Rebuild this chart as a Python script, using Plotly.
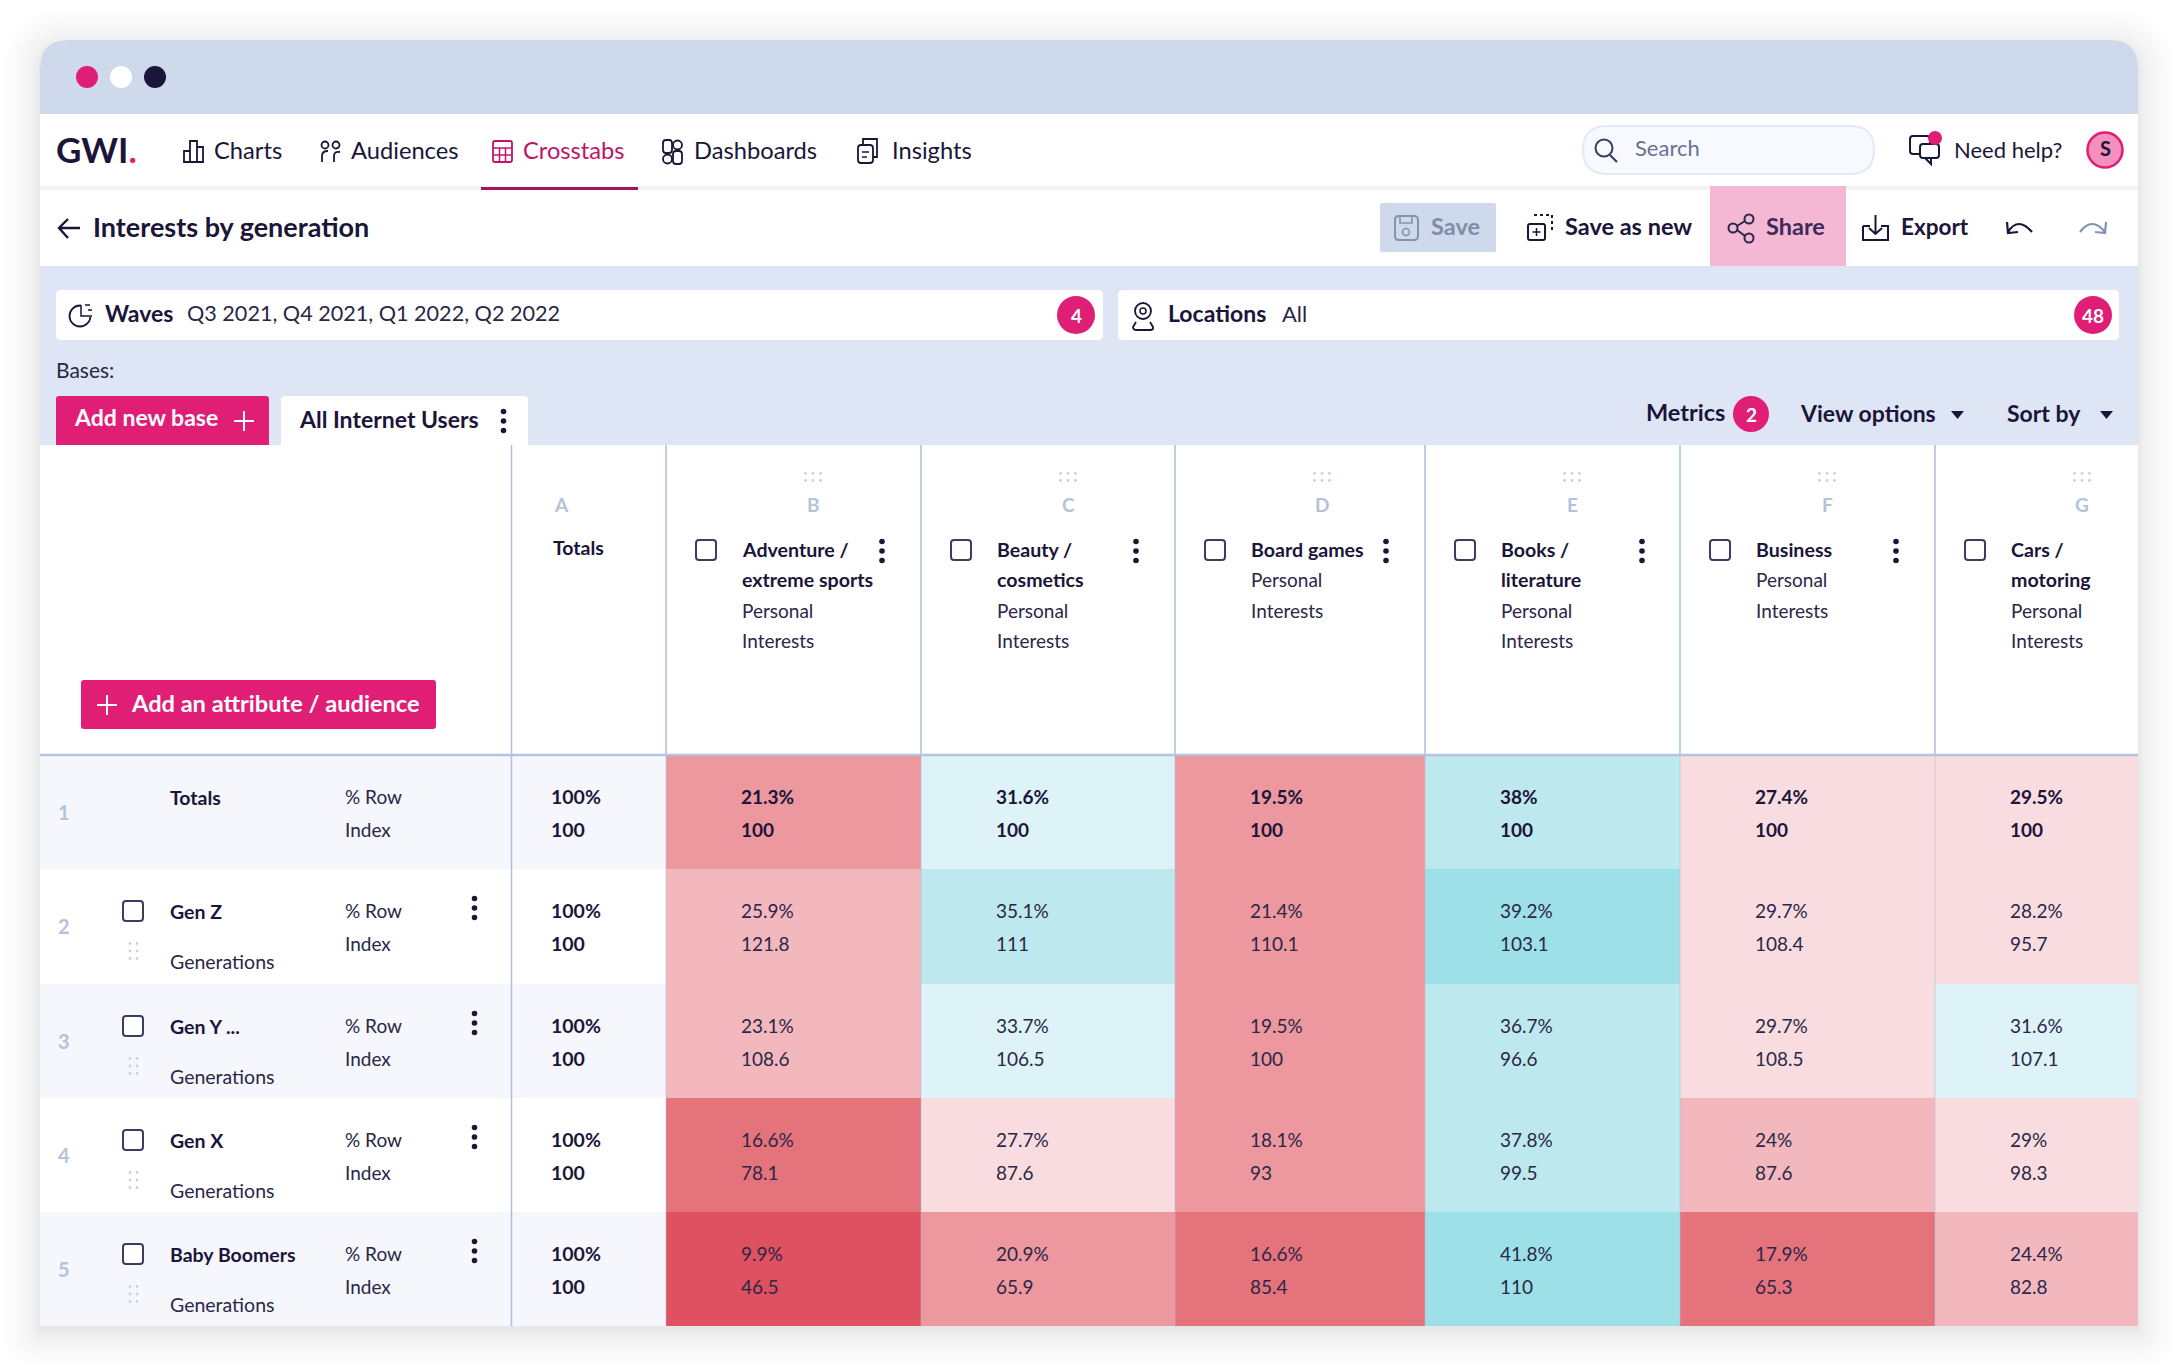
import plotly.graph_objects as go

# ---------- data ----------
row_labels = ["Totals", "Gen Z", "Gen Y ...", "Gen X", "Baby Boomers"]
col_letters = ["B", "C", "D", "E", "F", "G"]
col_titles = [["Adventure /", "extreme sports"], ["Beauty /", "cosmetics"], ["Board games"],
              ["Books /", "literature"], ["Business"], ["Cars /", "motoring"]]
pct_totals = [21.3, 31.6, 19.5, 38, 27.4, 29.5]
pct_gen_z = [25.9, 35.1, 21.4, 39.2, 29.7, 28.2]
pct_gen_y = [23.1, 33.7, 19.5, 36.7, 29.7, 31.6]
pct_gen_x = [16.6, 27.7, 18.1, 37.8, 24, 29]
pct_boomers = [9.9, 20.9, 16.6, 41.8, 17.9, 24.4]
idx_totals = [100, 100, 100, 100, 100, 100]
idx_gen_z = [121.8, 111, 110.1, 103.1, 108.4, 95.7]
idx_gen_y = [108.6, 106.5, 100, 96.6, 108.5, 107.1]
idx_gen_x = [78.1, 87.6, 93, 99.5, 87.6, 98.3]
idx_boomers = [46.5, 65.9, 85.4, 110, 65.3, 82.8]
pct_rows = [pct_totals, pct_gen_z, pct_gen_y, pct_gen_x, pct_boomers]
idx_rows = [idx_totals, idx_gen_z, idx_gen_y, idx_gen_x, idx_boomers]

# ---------- page geometry and style ----------
W, H = 2178, 1366
X_EDGES = [666, 921, 1175, 1425, 1680, 1935, 2138]
Y_EDGES = [755, 869, 984, 1098, 1212, 1326]
WIN_L, WIN_R, WIN_T, WIN_B = 40, 2138, 40, 1326
KEBAB_DX = [216, 215, 211, 217, 216, None]
FONT = "Lato"
NAVY = "#1B1539"
INK = "#2A2747"
PINK = "#E01E75"
FAINT = "#B4C3DC"
RULE = "#AEBFD9"
BIN_COLORS = ["#DF5060", "#E5737C", "#EC989E", "#F2B8BD", "#F9DCDF", "#DEF3F7", "#BDE9EE", "#9DE0E8"]
BIN_EDGES = [14, 18, 22, 26, 30, 34, 38.5]
ZMIN, ZMAX = 9, 43
TEXT_DY = -2

shapes, notes = [], []


def rr(x0, y0, x1, y1, r=0, rb=None):
    rb = r if rb is None else rb
    return (f"M{x0+r},{y0} L{x1-r},{y0} Q{x1},{y0} {x1},{y0+r} L{x1},{y1-rb} Q{x1},{y1} {x1-rb},{y1} "
            f"L{x0+rb},{y1} Q{x0},{y1} {x0},{y1-rb} L{x0},{y0+r} Q{x0},{y0} {x0+r},{y0} Z")


def box(x0, y0, x1, y1, fill=None, r=0, rb=None, line=None, lw=0, layer="above", op=1):
    shapes.append(dict(type="path", path=rr(x0, y0, x1, y1, r, rb), fillcolor=fill or "rgba(0,0,0,0)",
                       line=dict(color=line or "rgba(0,0,0,0)", width=lw), layer=layer, opacity=op))


def poly(d, color=NAVY, lw=2):
    shapes.append(dict(type="path", path=d, line=dict(color=color, width=lw), layer="above"))


def tri(d, color=NAVY):
    shapes.append(dict(type="path", path=d, fillcolor=color, line=dict(width=0), layer="above"))


def circ(cx, cy, r, fill=None, line=None, lw=0):
    shapes.append(dict(type="circle", x0=cx-r, x1=cx+r, y0=cy-r, y1=cy+r, fillcolor=fill or "rgba(0,0,0,0)",
                       line=dict(color=line or "rgba(0,0,0,0)", width=lw), layer="above"))


def hv(x0, y0, x1, y1, color=RULE, lw=1.5, layer="above"):
    shapes.append(dict(type="line", x0=x0, y0=y0, x1=x1, y1=y1, line=dict(color=color, width=lw), layer=layer))


def txt(x, y, s, size=20, color=INK, bold=False, anchor="left"):
    notes.append(dict(x=x, y=y + TEXT_DY, xref="x", yref="y", text=f"<b>{s}</b>" if bold else s, showarrow=False,
                      xanchor=anchor, yanchor="middle", borderpad=0, borderwidth=0,
                      font=dict(family=FONT, size=size, color=color)))


def kebab(x, y, color=NAVY):
    for dy in (-9.5, 0, 9.5):
        circ(x, y + dy, 2.8, fill=color)


def grip(cx, cy, horizontal=False):
    for a in (-1, 1):
        for b in (-7.5, 0, 7.5):
            if horizontal:
                circ(cx + b, cy + a * 3.5, 1.4, fill="#C6D2E6")
            else:
                circ(cx + a * 3.5, cy + b, 1.4, fill="#C6D2E6")


def checkbox(x0, y0):
    box(x0, y0, x0 + 20, y0 + 20, fill="#FFFFFF", r=3, line="#3A3C62", lw=2)


def badge(cx, cy, s, r=19):
    circ(cx, cy, r, fill=PINK)
    txt(cx, cy + 2, s, 19, "#FFFFFF", True, "center")


# ---------- window with soft shadow ----------
for k in range(24):
    grow = 1 + 36 * (k / 23) ** 1.8
    box(WIN_L - grow, WIN_T - grow + 6, WIN_R + grow, WIN_B + grow + 4, fill="#555555", r=28 + grow, rb=grow,
        layer="below", op=0.008)
box(WIN_L, WIN_T, WIN_R, WIN_B, fill="#FFFFFF", r=28, rb=0, layer="below")
shapes.append(dict(type="path", layer="below", fillcolor="#CED9EB", line=dict(width=0),
                   path=f"M{WIN_L},114 L{WIN_L},68 Q{WIN_L},{WIN_T} {WIN_L+28},{WIN_T} L{WIN_R-28},{WIN_T} Q{WIN_R},{WIN_T} {WIN_R},68 L{WIN_R},114 Z"))
box(WIN_L, 186, WIN_R, 190, fill="#F1F3F8", layer="below")
box(WIN_L, 266, WIN_R, 445, fill="#DEE6F5", layer="below")
for i, c in enumerate([PINK, "#FFFFFF", NAVY]):
    circ(87 + 34 * i, 77, 11, fill=c)

# ---------- nav ----------
txt(56, 151, f"<b>GWI<span style='color:{PINK}'>.</span></b>", 35, NAVY)
for x, s, c in [(214, "Charts", NAVY), (351, "Audiences", NAVY), (523, "Crosstabs", "#C2136B"), (694, "Dashboards", NAVY), (892, "Insights", NAVY)]:
    txt(x, 152, s, 23.7, c)
box(481, 187, 638, 190, fill="#A8135F")
# charts icon
poly("M184,162 L184,151 L190,151 L190,162 Z M190,162 L190,141 L197,141 L197,162 Z M197,162 L197,147 L203,147 L203,162 Z M184,162 L203,162", NAVY, 1.8)
# audiences icon
circ(325, 145, 3.5, line=NAVY, lw=1.8)
circ(336, 145, 3.5, line=NAVY, lw=1.8)
poly("M322,162 L322,156 Q322,151 328,151 M334,162 L334,156 Q334,151 340,152", NAVY, 1.8)
# crosstabs icon
CT = "#C2136B"
box(493, 141, 512, 162, line=CT, lw=1.8, r=2)
for yy in (148, 155):
    hv(493, yy, 512, yy, CT, 1.5)
for xx in (499.5, 505.5):
    hv(xx, 148, xx, 162, CT, 1.5)
# dashboards icon
box(663, 140, 672, 153, line=NAVY, lw=1.8, r=3)
circ(677.5, 145, 4.5, line=NAVY, lw=1.8)
circ(667.5, 159, 4.5, line=NAVY, lw=1.8)
box(673, 151, 682, 164, line=NAVY, lw=1.8, r=3)
# insights icon
box(858, 145, 873, 163, line=NAVY, lw=1.8, r=3)
poly("M863,145 L863,139 L877,139 L877,157 L873,157", NAVY, 1.8)
poly("M862,152 L869,152 M862,157 L867,157", NAVY, 1.5)
# search
box(1583, 126, 1874, 174, fill="#F7F9FE", r=24, line="#E3EAF5", lw=2)
circ(1604, 148, 8.5, line="#3A3C62", lw=2)
poly("M1610,155 L1617,162", "#3A3C62", 2.2)
txt(1635, 149, "Search", 22, "#66728F")
# help
box(1910, 136, 1930, 154, line=NAVY, lw=2, r=3)
box(1920, 144, 1939, 158, fill="#FFFFFF", line=NAVY, lw=2, r=3)
poly("M1931,158 L1931,164 L1925,158", NAVY, 2)
circ(1935, 138, 7, fill=PINK)
txt(1954, 151, "Need help?", 22, NAVY)
circ(2105, 150, 17.5, fill="#F48FBF", line=PINK, lw=2.5)
txt(2105, 150, "S", 20, NAVY, True, "center")

# ---------- toolbar ----------
poly("M59,228 L80,228 M68,219 L59,228 L68,238", NAVY, 2.4)
txt(93, 228, "Interests by generation", 27, NAVY, True)
box(1380, 203, 1496, 252, fill="#CED9EB", r=2)
box(1395, 216, 1418, 240, line="#8493AF", lw=2, r=4)
box(1400, 216, 1412, 223, line="#8493AF", lw=1.6)
circ(1406, 232, 3.5, line="#8493AF", lw=1.6)
txt(1431, 228, "Save", 23.5, "#7F8DA9", True)
box(1528, 224, 1545, 240, line=NAVY, lw=2, r=2)
poly("M1536.5,228 L1536.5,236 M1532.5,232 L1540.5,232", NAVY, 1.5)
shapes.append(dict(type="path", path="M1534,215 L1552,215 L1552,232", line=dict(color=NAVY, width=2, dash="dot"), layer="above"))
txt(1565, 228, "Save as new", 23.5, NAVY, True)
box(1710, 186, 1846, 266, fill="#F4B8D5")
for cx, cy in [(1733, 228), (1749, 219), (1749, 238)]:
    circ(cx, cy, 4.5, line=INK, lw=2)
poly("M1737,226 L1745,221 M1737,230 L1745,236", INK, 2)
txt(1766, 228, "Share", 23.5, "#3B2B5B", True)
poly("M1863,226 L1863,240 L1888,240 L1888,226 L1881,226 M1870,226 L1863,226", NAVY, 2)
poly("M1875.5,215 L1875.5,234 M1869,228 L1875.5,234 L1882,228", NAVY, 2)
txt(1901, 228, "Export", 22.5, NAVY, True)
poly("M2008,232 Q2018,216 2032,232 M2007,222 L2008,233 L2018,232", NAVY, 2.2)
poly("M2080,232 Q2092,216 2105,232 M2106,222 L2105,233 L2095,232", "#8493AF", 2.2)

# ---------- filters ----------
box(56, 290, 1103, 340, fill="#FFFFFF", r=5)
box(1118, 290, 2119, 340, fill="#FFFFFF", r=5)
circ(80, 316, 10.5, line=NAVY, lw=1.8)
box(81, 304, 93, 317, fill="#FFFFFF")
poly("M81,305 L81,316 L92,316 M85,305 L90,305 M88,310 L92,310", NAVY, 1.5)
txt(105, 315, "Waves", 23, NAVY, True)
txt(187, 315, "Q3 2021, Q4 2021, Q1 2022, Q2 2022", 21.6, INK)
badge(1076, 315, "4")
circ(1143, 311, 8, line=NAVY, lw=1.8)
circ(1143, 311, 3, line=NAVY, lw=1.5)
poly("M1136,322 L1133,327 Q1133,330 1137,330 L1150,330 Q1154,330 1153,327 L1150,322", NAVY, 1.8)
txt(1168, 315, "Locations", 23, NAVY, True)
txt(1282, 315, "All", 22, INK)
badge(2093, 315, "48")
txt(56, 371, "Bases:", 21, INK)
box(56, 396, 269, 445, fill=PINK, r=3, rb=0)
txt(74, 419, "Add new base", 23, "#FFFFFF", True)
hv(244, 411, 244, 431, "#FFFFFF", 2)
hv(234, 421, 254, 421, "#FFFFFF", 2)
box(281, 396, 528, 445, fill="#FFFFFF", r=4, rb=0)
txt(299, 421, "All Internet Users", 23, NAVY, True)
kebab(503.5, 421)
txt(1646, 414, "Metrics", 23.5, NAVY, True)
badge(1751, 414, "2", 18)
txt(1800, 415, "View options", 23, NAVY, True)
tri("M1951,411 L1964,411 L1957.5,419 Z")
txt(2007, 415, "Sort by", 23, NAVY, True)
tri("M2100,411 L2113,411 L2106.5,419 Z")

# ---------- table chrome ----------
for i in (0, 2, 4):
    box(WIN_L, Y_EDGES[i], X_EDGES[0], Y_EDGES[i + 1], fill="#F5F7FC", layer="below")
hv(511.5, 445, 511.5, WIN_B)
for x in X_EDGES[:-1]:
    hv(x, 445, x, 755)
    hv(x, 755, x, WIN_B, "rgba(174,191,217,0.55)", 1)
hv(WIN_L, 755, WIN_R, 755, "#B4C4DE", 2.5)

box(81, 680, 436, 729, fill=PINK, r=3)
hv(107, 695, 107, 715, "#FFFFFF", 2)
hv(97, 705, 117, 705, "#FFFFFF", 2)
txt(131, 705, "Add an attribute / audience", 23.6, "#FFFFFF", True)
txt(554, 506, "A", 19, FAINT, True)
txt(553, 549, "Totals", 19.5, NAVY, True)

for j, letter in enumerate(col_letters):
    left = X_EDGES[j]
    grip(left + 147, 477, True)
    txt(left + 147, 506, letter, 19, FAINT, True, "center")
    checkbox(left + 30, 540)
    lines = col_titles[j]
    for k, t in enumerate(lines):
        txt(left + 76, 551 + 30.5 * k, t, 19.6, NAVY, True)
    for k, t in enumerate(["Personal", "Interests"]):
        txt(left + 76, 551 + 30.5 * (len(lines) + k), t, 19, INK)
    if KEBAB_DX[j]:
        kebab(left + KEBAB_DX[j], 551)

for i, label in enumerate(row_labels):
    top = Y_EDGES[i]
    txt(64, top + 59, str(i + 1), 20, FAINT, True, "center")
    if i == 0:
        txt(170, top + 44, label, 19.5, NAVY, True)
    else:
        checkbox(123, top + 32)
        grip(133.5, top + 82)
        txt(170, top + 44, label, 19.5, NAVY, True)
        txt(170, top + 94, "Generations", 19.5, INK)
        kebab(474.5, top + 39)
    txt(345, top + 43, "% Row", 19, INK)
    txt(345, top + 76, "Index", 19, INK)
    txt(551, top + 43, "100%", 19.5, NAVY, True)
    txt(551, top + 76, "100", 19.5, NAVY, True)
    for j in range(len(col_letters)):
        txt(X_EDGES[j] + 75, top + 43, f"{pct_rows[i][j]:g}%", 19, NAVY if i == 0 else INK, i == 0)
        txt(X_EDGES[j] + 75, top + 76, f"{idx_rows[i][j]:g}", 19, NAVY if i == 0 else INK, i == 0)

# ---------- stepped colour scale over the % values ----------
stops = [ZMIN] + BIN_EDGES + [ZMAX]
colorscale = []
for n, c in enumerate(BIN_COLORS):
    colorscale.append([(stops[n] - ZMIN) / (ZMAX - ZMIN), c])
    colorscale.append([(stops[n + 1] - ZMIN) / (ZMAX - ZMIN), c])

fig = go.Figure(go.Heatmap(z=pct_rows, x=X_EDGES, y=Y_EDGES, zmin=ZMIN, zmax=ZMAX, colorscale=colorscale,
                           showscale=False, hoverinfo="skip"))
fig.update_layout(width=W, height=H, margin=dict(l=0, r=0, t=0, b=0), paper_bgcolor="#FFFFFF", plot_bgcolor="rgba(0,0,0,0)",
                  xaxis=dict(range=[0, W], visible=False, fixedrange=True),
                  yaxis=dict(range=[H, 0], visible=False, fixedrange=True),
                  shapes=shapes, annotations=notes, showlegend=False)
fig.write_html("out.html", post_script="document.body.style.margin='0';document.body.style.overflow='hidden';",
               config={"displayModeBar": False})
